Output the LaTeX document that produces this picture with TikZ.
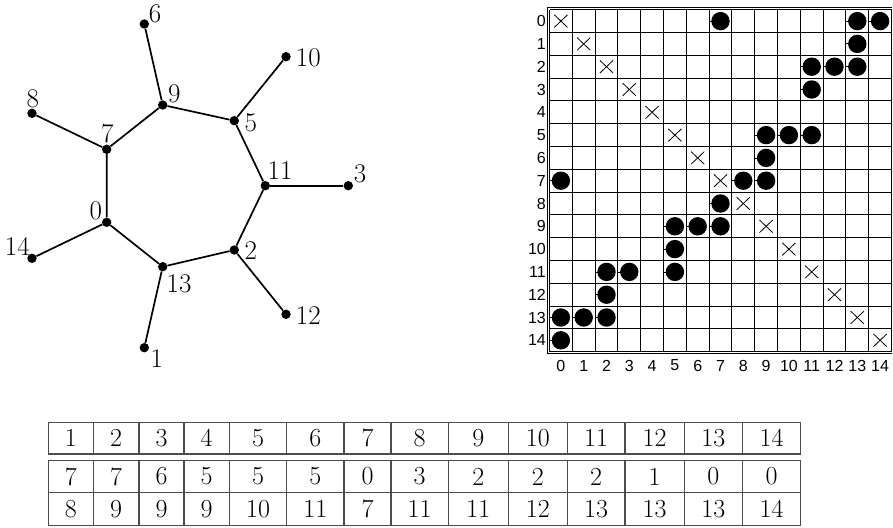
\documentclass[tikz,border=0pt]{standalone}
\usepackage{fontspec}
\newfontfamily\msans{Liberation Sans}
\begin{document}
\begin{tikzpicture}[x=1pt,y=-1pt,
  dot/.style={circle,fill=black,inner sep=0pt,minimum size=9.4pt},
  gedge/.style={line width=1.7pt},
  glabel/.style={inner sep=0pt,font=\fontsize{27}{30}\selectfont},
  tcell/.style={inner sep=0pt,font=\fontsize{26}{28}\selectfont},
  tline/.style={draw=black!70,line width=1.2pt},
  gridline/.style={line width=1.1pt},
  mlab/.style={inner sep=0pt,font=\msans\fontsize{16}{18}\selectfont},
  xmark/.style={line width=0.8pt}]
\useasboundingbox (0,0) rectangle (893,527);

% ---------------- graph ----------------
\node[dot] (n0)  at (106.7,222.3) {};
\node[dot] (n1)  at (144.3,347.7) {};
\node[dot] (n2)  at (234.3,250.0) {};
\node[dot] (n3)  at (348.3,185.7) {};
\node[dot] (n5)  at (234.3,120.7) {};
\node[dot] (n6)  at (144.3,24.0) {};
\node[dot] (n7)  at (106.7,149.3) {};
\node[dot] (n8)  at (32.0,113.3) {};
\node[dot] (n9)  at (162.7,105.0) {};
\node[dot] (n10) at (286.0,56.7) {};
\node[dot] (n11) at (265.3,185.7) {};
\node[dot] (n12) at (286.0,314.3) {};
\node[dot] (n13) at (162.7,266.7) {};
\node[dot] (n14) at (32.0,258.3) {};

\draw[gedge] (n0) -- (n7) -- (n9) -- (n5) -- (n11) -- (n2) -- (n13) -- (n0);
\draw[gedge] (n7) -- (n8);
\draw[gedge] (n9) -- (n6);
\draw[gedge] (n5) -- (n10);
\draw[gedge] (n11) -- (n3);
\draw[gedge] (n2) -- (n12);
\draw[gedge] (n13) -- (n1);
\draw[gedge] (n0) -- (n14);

\node[glabel] (l6)  at (155.0,14.0) {6};
\node[glabel] (l10) at (308.3,57.3) {10};
\node[glabel] (l9)  at (174.3,93.3) {9};
\node[glabel] (l8)  at (32.7,99.0) {8};
\node[glabel] (l5)  at (250.7,122.7) {5};
\node[glabel] (l7)  at (107.3,133.3) {7};
\node[glabel] (l11) at (280.0,170.7) {11};
\node[glabel] (l3)  at (360.0,174.0) {3};
\node[glabel] (l0)  at (95.7,210.7) {0};
\node[glabel] (l14) at (17.3,246.7) {14};
\node[glabel] (l2)  at (250.7,251.0) {2};
\node[glabel] (l13) at (179.0,283.3) {13};
\node[glabel] (l12) at (308.3,316.0) {12};
\node[glabel] (l1)  at (156.7,358.3) {1};

% ---------------- matrix ----------------
\foreach \k in {0,...,15} {
  \draw[gridline] ({549.5+\k*22.8},9.7) -- ++(0,342);
  \draw[gridline] (549.5,{9.7+\k*22.8}) -- ++(342,0);
}
\draw[gridline] (547.4,7.8) -- (891.5,7.8);
\draw[gridline] (547.4,7.8) -- (547.4,353.4) -- (891.5,353.4);
\foreach \k in {0,...,14} {
  \node[mlab,anchor=east] (r\k) at (546.0,{9.7+(\k+0.5)*22.8}) {\k};
  \node[mlab] (c\k) at ({549.5+(\k+0.5)*22.8},365.5) {\k};
  \draw[xmark] ({549.5+(\k+0.5)*22.8-6.6},{9.7+(\k+0.5)*22.8-6.3}) -- ++(13.2,12.6);
  \draw[xmark] ({549.5+(\k+0.5)*22.8-6.6},{9.7+(\k+0.5)*22.8+6.3}) -- ++(13.2,-12.6);
}
\foreach \r/\c in {0/7,0/13,0/14,1/13,2/11,2/12,2/13,3/11,5/9,5/10,5/11,6/9,7/0,7/8,7/9,8/7,9/5,9/6,9/7,10/5,11/2,11/3,11/5,12/2,13/0,13/1,13/2,14/0} {
  \fill ({549.5+(\c+0.5)*22.8},{9.7+(\r+0.5)*22.8}) circle (9.2);
  \draw[line width=0.8pt] ({549.5+\c*22.8},{9.7+(\r+0.5)*22.8}) -- ++(3,0);
}

% ---------------- table ----------------
\foreach \a/\b/\u/\v/\w [count=\i] in {
  48.3/93.3/1/7/8, 93.3/139/2/7/9, 139/184/3/6/9, 184/229.3/4/5/9,
  229.3/286.7/5/5/10, 286.7/344/6/5/11, 344/391/7/0/7, 391/448.3/8/3/11,
  448.3/508.3/9/2/11, 508.3/567.3/10/2/12, 567.3/625/11/2/13,
  625/684.3/12/1/13, 684.3/742.3/13/0/13, 742.3/800.7/14/0/14} {
  \draw[tline] (\a,422.3) rectangle (\b,454);
  \draw[tline] (\a,460.5) rectangle (\b,492.5);
  \draw[tline] (\a,492.5) rectangle (\b,525.5);
  \node[tcell] (ta\i) at ({(\a+\b)/2},438.2) {\u};
  \node[tcell] (tb\i) at ({(\a+\b)/2},476.5) {\v};
  \node[tcell] (tc\i) at ({(\a+\b)/2},509.0) {\w};
}
\end{tikzpicture}
\end{document}
